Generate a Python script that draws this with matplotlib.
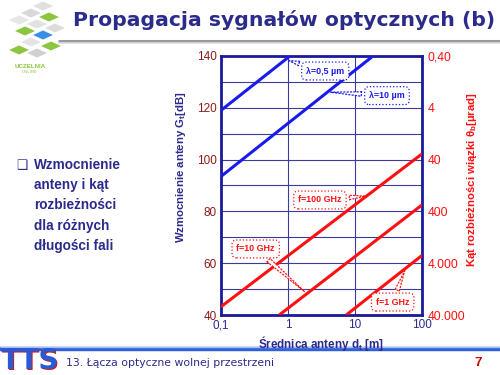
import numpy as np
import matplotlib
matplotlib.use("Agg")
import matplotlib.pyplot as plt
from matplotlib.patches import Polygon

plt.rcParams["font.family"] = ["Liberation Sans", "DejaVu Sans"]

NAVY = "#2b2b8c"
GRID = "#3a3aa0"
BLUE = "#1a1aee"
RED = "#ff1010"
MAROON = "#8b1a1a"

# data (diameter d_t [m], gain G_t [dB])
d_lam05 = [0.1, 1.07]
g_lam05 = [119, 140]
d_lam10 = [0.1, 18.6]
g_lam10 = [93.5, 140]
d_f100 = [0.1, 100]
g_f100 = [43.2, 102.2]
d_f10 = [0.74, 100]
g_f10 = [40, 82.5]
d_f1 = [7.4, 100]
g_f1 = [40, 63]

x_ticks = [0.1, 1, 10, 100]
x_labels = ["0,1", "1", "10", "100"]
g_ticks = [40, 60, 80, 100, 120, 140]
theta_labels = ["40.000", "4.000", "400", "40", "4", "0,40"]

bullet_lines = ["Wzmocnienie", "anteny i kąt", "rozbieżności", "dla różnych", "długości fali"]

fig = plt.figure(figsize=(5, 3.75), dpi=100, facecolor="white")

# page canvas in pixel coords
cv = fig.add_axes([0, 0, 1, 1])
cv.set_xlim(0, 500)
cv.set_ylim(375, 0)
cv.axis("off")

# logo tiles (top-left)
tiles = [
    ((8, 20), "#e6e6e6"), ((20, 13), "#d8d8d8"), ((32, 6), "#e0e0e0"),
    ((14, 31), "#8cc63f"), ((26, 24), "#e2e2e2"), ((38, 17), "#8cc63f"),
    ((20, 42), "#e4e4e4"), ((32, 35), "#3a8ee6"), ((44, 28), "#dcdcdc"),
    ((8, 50), "#8cc63f"), ((26, 53), "#d0d0d0"), ((40, 46), "#8cc63f"),
]
for (x, y), c in tiles:
    cv.add_patch(Polygon([(x, y), (x + 11, y - 5), (x + 22, y), (x + 11, y + 5)],
                         closed=True, fc=c, ec="white", lw=0.6))
cv.text(30, 66, "UCZELNIA", color="#8cc63f", fontsize=4.5, weight="bold", ha="center", va="center")
cv.text(30, 72, "ONLINE", color="#8cc63f", fontsize=3, ha="center", va="center")

# title and header rule
cv.text(284, 20, "Propagacja sygnałów optycznych (b)", color=NAVY, fontsize=14.7,
        weight="bold", ha="center", va="center", family="DejaVu Sans")
cv.plot([58, 500], [41, 41], color="#9a9a9a", lw=2.2, solid_capstyle="butt")
cv.plot([58, 500], [43, 43], color="#dddddd", lw=1.2, solid_capstyle="butt")

# bullet text
cv.text(16, 165, "❑", color=NAVY, fontsize=9, ha="left", va="center", family="DejaVu Sans")
for i, line in enumerate(bullet_lines):
    cv.text(34, 165 + i * 20.2, line, color=NAVY, fontsize=9.8, weight="bold",
            ha="left", va="center")

# footer
cv.plot([0, 500], [349, 349], color="#2f62d8", lw=3.2, solid_capstyle="butt")
cv.plot([0, 500], [346.5, 346.5], color="#a9c0f0", lw=1.0, solid_capstyle="butt")
cv.text(2, 362, "TTS", color="#c81e1e", fontsize=20, weight="bold", ha="left", va="center",
        family="DejaVu Sans")
cv.text(0.5, 361, "TTS", color="#2a5ad6", fontsize=20, weight="bold", ha="left", va="center",
        family="DejaVu Sans")
cv.text(66, 363, "13. Łącza optyczne wolnej przestrzeni", color=NAVY, fontsize=7.8,
        ha="left", va="center", family="DejaVu Sans")
cv.text(478, 363, "7", color="#d00000", fontsize=9.5, weight="bold", ha="center", va="center")

# chart
ax = fig.add_axes([0.442, 0.16, 0.402, 0.6907])
ax.set_xscale("log")
ax.set_xlim(0.1, 100)
ax.set_ylim(40, 140)
ax.set_xticks(x_ticks)
ax.set_xticklabels(x_labels)
ax.minorticks_off()
ax.set_yticks(g_ticks)
ax.set_yticks(np.arange(40, 141, 10), minor=True)
ax.grid(True, which="both", axis="y", color=GRID, lw=0.8)
ax.grid(True, which="major", axis="x", color=GRID, lw=0.8)
ax.set_axisbelow(True)
for s in ax.spines.values():
    s.set_color("#1a1a9a")
    s.set_linewidth(2)
ax.tick_params(axis="both", which="both", length=0, pad=3)
ax.tick_params(axis="y", labelcolor=MAROON, labelsize=8.5)
ax.tick_params(axis="x", labelcolor=NAVY, labelsize=8.5)
ax.set_xlabel("Średnica anteny d$_\\mathregular{t}$ [m]", color=NAVY, fontsize=8.4,
              weight="bold", labelpad=2)
ax.set_ylabel("Wzmocnienie anteny G$_\\mathregular{t}$[dB]", color=NAVY, fontsize=8.2,
              weight="bold")
ax.yaxis.set_label_coords(-0.165, 0.571)

for d, g in [(d_lam05, g_lam05), (d_lam10, g_lam10)]:
    ax.plot(d, g, color=BLUE, lw=2.2, solid_capstyle="butt", zorder=3)
for d, g in [(d_f100, g_f100), (d_f10, g_f10), (d_f1, g_f1)]:
    ax.plot(d, g, color=RED, lw=2.2, solid_capstyle="butt", zorder=3)

ax2 = ax.twinx()
ax2.set_ylim(40, 140)
ax2.set_yticks(g_ticks)
ax2.set_yticklabels(theta_labels)
ax2.tick_params(axis="y", length=0, pad=4, labelcolor=RED, labelsize=8.7)
for s in ax2.spines.values():
    s.set_visible(False)
ax2.set_ylabel("Kąt rozbieżności wiązki θ$_\\mathregular{b}$[µrad]", color=RED,
               fontsize=8.2, weight="bold")
ax2.yaxis.set_label_coords(1.215, 0.521)


def callout(text, tip, center, color):
    ax.annotate(text, xy=tip, xytext=center, ha="center", va="center",
                fontsize=6.4, weight="bold", color=color, zorder=5,
                bbox=dict(boxstyle="round,pad=0.5", fc="white", ec=color, ls=":", lw=0.9),
                arrowprops=dict(arrowstyle="wedge,tail_width=0.5,shrink_factor=0.5",
                                fc="white", ec=color, ls=":", lw=0.9))


callout("λ=0,5 µm", (0.95, 138.5), (3.6, 134.2), BLUE)
callout("λ=10 µm", (3.9, 126.1), (30, 124.7), BLUE)
callout("f=100 GHz", (15.6, 86), (3.0, 84.4), RED)
callout("f=10 GHz", (1.9, 48.3), (0.33, 65.5), RED)
callout("f=1 GHz", (57, 58), (36.5, 45), RED)

fig.savefig("out.png", dpi=100, facecolor=fig.get_facecolor())
